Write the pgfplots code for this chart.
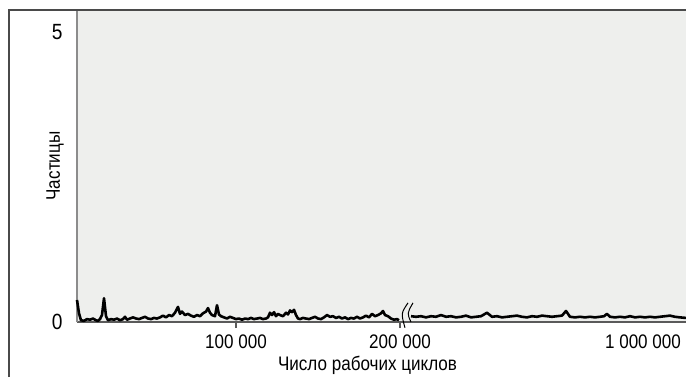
\documentclass[border=0pt]{standalone}
\usepackage{fontspec}
\setmainfont{Liberation Sans}[FakeStretch=0.87]
\usepackage{pgfplots}
\pgfplotsset{compat=1.18}
\definecolor{bgfill}{HTML}{EEEFED}
\definecolor{framecol}{HTML}{4A4A4A}
\definecolor{leftax}{HTML}{8C8C8C}
\definecolor{botax}{HTML}{5A5A5A}
\begin{document}
\begin{tikzpicture}
\path[use as bounding box] (-38.5pt,-27.5pt) rectangle (304.5pt,161pt);
\begin{axis}[
  at={(0,0)}, anchor=south west,
  scale only axis, width=304.5pt, height=156pt,
  xmin=77, xmax=686, ymin=0, ymax=5.3793,
  axis x line*=bottom, axis y line*=left,
  x axis line style={draw=botax, line width=0.8pt},
  y axis line style={draw=leftax, line width=1pt},
  axis background/.style={fill=bgfill},
  xtick={236,400}, xticklabels={100 000,200 000},
  extra x ticks={643}, extra x tick labels={1 000 000},
  extra x tick style={x tick style={draw=none}},
  x tick style={draw=botax, line width=0.6pt},
  major tick length=3pt, tick align=outside,
  ytick={0,5}, yticklabels={0,5},
  y tick style={draw=none},
  xticklabel style={font=\fontsize{9.8}{11}\selectfont, inner sep=0pt, anchor=north, yshift=-3pt},
  yticklabel style={font=\fontsize{11}{12}\selectfont, inner sep=0pt, anchor=east, xshift=-4pt},
  label style={font=\fontsize{9.8}{11}\selectfont},
  xlabel={Число рабочих циклов},
  xlabel style={at={(axis description cs:0.477,-0.138)}, anchor=center},
  ylabel={Частицы},
  ylabel style={at={(axis description cs:-0.036,0.5)}, anchor=center},
  clip=false,
]
\addplot[black, line width=1.3pt, line join=round] coordinates {
(77,0.38) (79,0.15) (81,0.03) (84,0.02) (87,0.05) (90,0.04) (93,0.06) (96,0.03) (98,0.02) (100,0.05)
(102,0.12) (104,0.41) (106,0.10) (108,0.03) (111,0.05) (114,0.04) (117,0.06) (120,0.03) (123,0.05) (125,0.09)
(127,0.04) (130,0.06) (133,0.08) (136,0.06) (139,0.05) (142,0.07) (145,0.09) (148,0.06) (151,0.05) (154,0.07)
(157,0.06) (160,0.08) (163,0.11) (166,0.08) (169,0.12) (172,0.10) (175,0.16) (178,0.26) (180,0.14) (182,0.18)
(185,0.12) (188,0.14) (191,0.11) (194,0.09) (197,0.12) (200,0.10) (203,0.15) (206,0.18) (208,0.24) (210,0.16)
(212,0.12) (215,0.10) (217,0.29) (219,0.13) (221,0.10) (224,0.08) (227,0.06) (230,0.09) (233,0.07) (236,0.05)
(239,0.06) (242,0.04) (245,0.06) (248,0.05) (251,0.07) (254,0.05) (257,0.06) (260,0.07) (263,0.05) (266,0.06)
(268,0.08) (270,0.16) (272,0.12) (274,0.17) (276,0.10) (278,0.14) (280,0.12) (283,0.10) (286,0.16) (288,0.13)
(290,0.20) (292,0.17) (294,0.21) (296,0.12) (298,0.06) (300,0.05) (303,0.07) (306,0.06) (309,0.05) (312,0.07)
(315,0.09) (318,0.06) (321,0.05) (324,0.08) (327,0.12) (330,0.09) (333,0.10) (336,0.07) (339,0.09) (342,0.06)
(345,0.08) (348,0.05) (351,0.07) (354,0.06) (357,0.09) (360,0.06) (363,0.08) (366,0.11) (369,0.08) (372,0.14)
(375,0.10) (378,0.12) (381,0.15) (383,0.19) (385,0.12) (388,0.10) (391,0.06) (394,0.04) (397,0.05) (399,0.03)
};
\addplot[black, line width=1.3pt, line join=round] coordinates {
(411,0.10) (416,0.09) (421,0.10) (426,0.08) (431,0.10) (436,0.09) (441,0.12) (446,0.09) (451,0.10) (456,0.08)
(461,0.09) (466,0.11) (471,0.08) (476,0.09) (481,0.10) (487,0.16) (492,0.09) (497,0.10) (502,0.08) (507,0.09)
(512,0.10) (517,0.11) (522,0.09) (527,0.08) (532,0.10) (537,0.09) (542,0.11) (547,0.10) (552,0.09) (557,0.10)
(562,0.11) (566,0.19) (570,0.09) (575,0.08) (580,0.09) (585,0.08) (590,0.09) (595,0.08) (600,0.09) (604,0.10)
(607,0.14) (610,0.09) (615,0.08) (620,0.09) (625,0.08) (630,0.10) (635,0.08) (640,0.09) (645,0.08) (650,0.09)
(655,0.08) (660,0.09) (665,0.10) (670,0.11) (675,0.09) (680,0.08) (686,0.07)
};
\draw[black, line width=0.5pt] (axis cs:408,0.33) .. controls (axis cs:401,0.15) .. (axis cs:405,-0.10);
\draw[black, line width=0.5pt] (axis cs:413,0.33) .. controls (axis cs:407,0.15) .. (axis cs:411,0.0);
\end{axis}
\draw[framecol, line width=1pt] (-34pt,-27.5pt) -- (-34pt,156pt) -- (304.5pt,156pt);
\end{tikzpicture}
\end{document}
